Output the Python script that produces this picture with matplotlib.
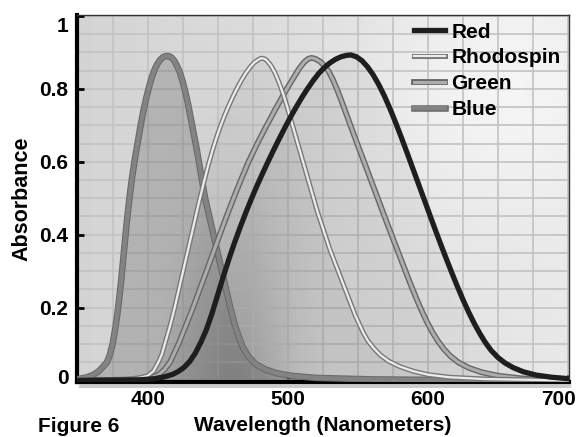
import matplotlib
matplotlib.use("Agg")
import matplotlib.pyplot as plt
import matplotlib.patheffects as pe
from matplotlib.lines import Line2D
from matplotlib.ticker import MultipleLocator
from matplotlib.transforms import ScaledTranslation
import numpy as np

# values
wl_blue = [350, 356, 361, 365, 368, 371, 373, 375, 377, 379, 381, 383, 385, 387, 389, 391, 393, 395,
           397, 399, 401, 403, 405, 407, 409, 411, 413, 415, 417, 419, 421, 423, 425, 427, 429, 431,
           433, 435, 437, 439, 441, 444, 447, 450, 453, 456, 459, 462, 465, 468, 472, 477, 484, 492,
           502, 520, 560, 620, 700]
abs_blue = [0.004, 0.008, 0.015, 0.025, 0.037, 0.05, 0.07, 0.1, 0.145, 0.2, 0.27, 0.35, 0.43, 0.5,
            0.56, 0.61, 0.655, 0.7, 0.74, 0.775, 0.805, 0.832, 0.853, 0.869, 0.88, 0.887, 0.89, 0.89,
            0.886, 0.877, 0.863, 0.845, 0.82, 0.79, 0.755, 0.715, 0.675, 0.635, 0.59, 0.545, 0.5,
            0.45, 0.4, 0.35, 0.3, 0.25, 0.2, 0.155, 0.12, 0.09, 0.065, 0.045, 0.03, 0.02, 0.013,
            0.007, 0.003, 0.001, 0.0]

wl_rho = [350, 385, 395, 400, 404, 407, 410, 413, 416, 419, 422, 425, 428, 431, 434, 437, 440, 443,
          446, 449, 452, 455, 458, 461, 464, 467, 470, 473, 476, 479, 481, 483, 485, 488, 491, 494,
          497, 500, 503, 506, 509, 512, 515, 518, 521, 524, 527, 530, 533, 536, 539, 542, 545, 548,
          551, 554, 557, 561, 566, 572, 580, 590, 600, 615, 640, 700]
abs_rho = [0.0, 0.003, 0.008, 0.013, 0.025, 0.045, 0.07, 0.11, 0.15, 0.195, 0.245, 0.295, 0.345,
           0.395, 0.445, 0.495, 0.542, 0.587, 0.628, 0.665, 0.698, 0.728, 0.755, 0.78, 0.803, 0.824,
           0.843, 0.859, 0.872, 0.88, 0.884, 0.883, 0.878, 0.864, 0.843, 0.815, 0.783, 0.745, 0.705,
           0.665, 0.625, 0.585, 0.545, 0.505, 0.465, 0.43, 0.395, 0.36, 0.33, 0.3, 0.27, 0.24, 0.21,
           0.18, 0.155, 0.13, 0.11, 0.09, 0.07, 0.053, 0.038, 0.025, 0.016, 0.009, 0.004, 0.0]

wl_grn = [350, 395, 403, 408, 412, 416, 419, 422, 427, 432, 437, 442, 446, 451, 456, 461, 466, 472,
          478, 485, 492, 499, 505, 508, 511, 513, 515, 517, 520, 523, 526, 529, 532, 535, 539, 543,
          547, 551, 555, 559, 563, 567, 571, 575, 579, 583, 587, 591, 595, 599, 603, 607, 611, 616,
          622, 629, 638, 650, 666, 685, 700]
abs_grn = [0.0, 0.003, 0.008, 0.016, 0.03, 0.05, 0.075, 0.1, 0.148, 0.196, 0.248, 0.3, 0.342, 0.395,
           0.447, 0.497, 0.545, 0.6, 0.648, 0.7, 0.75, 0.798, 0.836, 0.855, 0.87, 0.878, 0.883, 0.885,
           0.882, 0.875, 0.864, 0.849, 0.827, 0.8, 0.76, 0.718, 0.676, 0.635, 0.594, 0.553, 0.512,
           0.471, 0.43, 0.39, 0.35, 0.31, 0.27, 0.232, 0.196, 0.163, 0.134, 0.109, 0.088, 0.067,
           0.049, 0.035, 0.023, 0.013, 0.006, 0.002, 0.001]

wl_red = [350, 395, 405, 412, 418, 422, 426, 430, 434, 438, 442, 446, 450, 454, 458, 462, 466, 470,
          474, 478, 482, 486, 490, 494, 498, 502, 506, 510, 514, 518, 522, 526, 530, 534, 538, 542,
          545, 549, 553, 557, 561, 565, 569, 573, 577, 581, 585, 589, 593, 597, 601, 605, 609, 613,
          617, 621, 625, 629, 633, 637, 641, 645, 650, 655, 661, 668, 677, 688, 700]
abs_red = [0.0, 0.002, 0.005, 0.01, 0.017, 0.025, 0.036, 0.052, 0.075, 0.105, 0.14, 0.185, 0.235,
           0.285, 0.333, 0.378, 0.42, 0.46, 0.498, 0.534, 0.568, 0.601, 0.633, 0.664, 0.694, 0.723,
           0.75, 0.776, 0.8, 0.822, 0.842, 0.858, 0.871, 0.881, 0.888, 0.892, 0.893, 0.888, 0.877,
           0.86, 0.838, 0.811, 0.78, 0.745, 0.707, 0.667, 0.626, 0.584, 0.542, 0.5, 0.458, 0.416,
           0.375, 0.335, 0.296, 0.258, 0.222, 0.188, 0.157, 0.129, 0.104, 0.083, 0.063, 0.048,
           0.035, 0.024, 0.015, 0.009, 0.005]

x_ticks = [400, 500, 600, 700]
y_ticks = [0, 0.2, 0.4, 0.6, 0.8, 1]
y_ticklabels = ['0', '0.2', '0.4', '0.6', '0.8', '1']

plt.rcParams['font.family'] = ['Liberation Sans', 'DejaVu Sans']
plt.rcParams['font.weight'] = 'bold'
fs = 15

fig = plt.figure(figsize=(5.78, 4.37), dpi=100)
ax = fig.add_axes([0.133, 0.126, 0.851, 0.840])

# shaded gray background
gx, gy = np.meshgrid(np.linspace(350, 700, 400), np.linspace(0, 1, 200))
bg = 0.83 + 0.08 * (gx - 350) / 350
bg -= 0.17 * np.exp(-((gx - 462) / 38) ** 2) * (1 - gy) ** 1.5
bg += 0.06 * np.exp(-((gx - 640) / 90) ** 2 - ((gy - 0.8) / 0.35) ** 2)
ax.imshow(bg, extent=[350, 700, 0, 1], origin='lower', aspect='auto', cmap='gray',
          vmin=0, vmax=1, zorder=0, interpolation='bilinear')

ax.xaxis.set_minor_locator(MultipleLocator(25))
ax.yaxis.set_minor_locator(MultipleLocator(0.05))
ax.grid(which='both', color='#c2c2c2', lw=1.2, zorder=1)
ax.set_axisbelow(True)

ax.fill_between(wl_blue, abs_blue, color='black', alpha=0.16, lw=0, zorder=2)
ax.fill_between(wl_rho, abs_rho, color='black', alpha=0.04, lw=0, zorder=2)
ax.fill_between(wl_grn, abs_grn, color='black', alpha=0.04, lw=0, zorder=2)
ax.fill_between(wl_red, abs_red, color='black', alpha=0.04, lw=0, zorder=2)

blue, = ax.plot(wl_blue, abs_blue, color='#838383', lw=3.2, zorder=3,
                path_effects=[pe.Stroke(linewidth=4.7, foreground='#686868'), pe.Normal()])
green, = ax.plot(wl_grn, abs_grn, color='#adadad', lw=2.2, zorder=4,
                 path_effects=[pe.Stroke(linewidth=4.2, foreground='#666666'), pe.Normal()])
rho, = ax.plot(wl_rho, abs_rho, color='#ececec', lw=1.6, zorder=5,
               path_effects=[pe.Stroke(linewidth=3.6, foreground='#787878'), pe.Normal()])
red, = ax.plot(wl_red, abs_red, color='#1e1e1e', lw=3.8, zorder=6)

ax.legend([red, rho, green, blue], ['Red', 'Rhodospin', 'Green', 'Blue'],
          loc='upper left', bbox_to_anchor=(0.648, 1.03), frameon=False,
          handlelength=1.45, handletextpad=0.33, labelspacing=0.33,
          prop={'weight': 'bold', 'size': fs})

ax.set_xlim(349.5, 700.5)
ax.set_ylim(-0.004, 1.003)
ax.set_xticks(x_ticks)
ax.set_yticks(y_ticks)
ax.set_yticklabels(y_ticklabels)
ax.tick_params(which='major', direction='in', length=5, width=2, color='black',
               labelsize=fs, pad=6)
ax.tick_params(which='minor', length=0)
for lab in ax.get_xticklabels() + ax.get_yticklabels():
    lab.set_fontweight('bold')


def nudge(lab, dx, dy):
    lab.set_transform(lab.get_transform() + ScaledTranslation(dx / 100, dy / 100, fig.dpi_scale_trans))


# a few labels sit off their ticks in the original
nudge(ax.get_xticklabels()[-1], -10, 0)
nudge(ax.get_yticklabels()[-1], 0, -9)
nudge(ax.get_yticklabels()[0], 0, 4)

for side in ['left', 'bottom']:
    ax.spines[side].set_linewidth(3)
    ax.spines[side].set_color('black')
for side in ['top', 'right']:
    ax.spines[side].set_linewidth(1)
    ax.spines[side].set_color('#333333')

# soft shadow under the bottom axis
fig.add_artist(Line2D([0.14, 0.985], [0.117, 0.117], transform=fig.transFigure,
                      color='#9a9a9a', lw=3, alpha=0.5))

ax.set_xlabel('Wavelength (Nanometers)', fontsize=fs, fontweight='bold', labelpad=4.5)
ax.set_ylabel('Absorbance', fontsize=fs + 0.5, fontweight='bold', labelpad=5)

fig.text(0.066, 1 - 432 / 437, 'Figure 6', fontsize=15, fontweight='bold', va='baseline')

fig.savefig('out.png', dpi=100)
